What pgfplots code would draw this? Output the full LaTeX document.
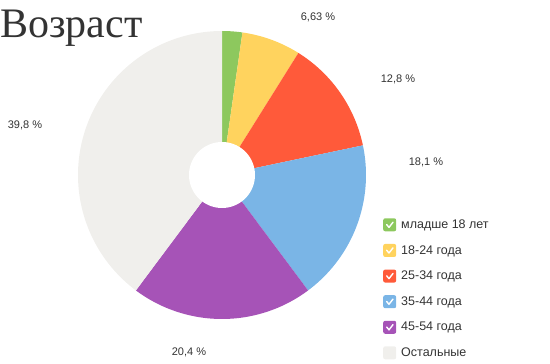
\documentclass[border=0pt]{standalone}
\usepackage{pgfplots}
\pgfplotsset{compat=1.18}
\usepackage{fontspec}
\setmainfont{Liberation Sans}
\newfontfamily\titlefont{Liberation Serif}
\definecolor{cgreen}{HTML}{8DC85E}
\definecolor{cyellow}{HTML}{FFD35E}
\definecolor{cred}{HTML}{FF5A3A}
\definecolor{cblue}{HTML}{7AB5E6}
\definecolor{cpurple}{HTML}{A653B7}
\definecolor{cgray}{HTML}{F0EFEC}
\definecolor{ctext}{HTML}{333333}
% shares in percent
\def\vA{2.27}\def\vB{6.63}\def\vC{12.8}\def\vD{18.1}\def\vE{20.4}\def\vF{39.8}
\pgfmathsetmacro{\aA}{90}
\pgfmathsetmacro{\aB}{\aA-3.6*\vA}
\pgfmathsetmacro{\aC}{\aB-3.6*\vB}
\pgfmathsetmacro{\aD}{\aC-3.6*\vC}
\pgfmathsetmacro{\aE}{\aD-3.6*\vD}
\pgfmathsetmacro{\aF}{\aE-3.6*\vE}
\pgfmathsetmacro{\aG}{\aF-3.6*\vF}
\def\cx{222}\def\cy{189}\def\R{144}\def\r{33}
\pgfplotsset{
  chkon/.style={legend image code/.code={%
    \path[rounded corners=2pt] (0pt,-6.5pt) rectangle (13pt,6.5pt);
    \path[fill=none, draw=none] (15.5pt,0pt);
    \draw[draw=white, fill=none, line width=1.4pt, line cap=round, line join=round] (3.5pt,0.2pt) -- (5.8pt,-2.6pt) -- (9.8pt,2.6pt);}},
  chkoff/.style={legend image code/.code={%
    \path[rounded corners=2pt] (0pt,-6.5pt) rectangle (13pt,6.5pt);
    \path[fill=none, draw=none] (15.5pt,0pt);}},
}
\begin{document}
\begin{tikzpicture}
\begin{axis}[
  x=1pt, y=1pt, xmin=0, xmax=550, ymin=0, ymax=364,
  hide axis, clip=false, anchor=south west, at={(0,0)},
  legend style={at={(axis cs:383,147)}, anchor=north west, draw=none, fill=none,
    font=\fontsize{12.5}{12.5}\selectfont, text=ctext, inner sep=0pt,
    row sep=10.4pt, column sep=0pt, cells={anchor=west},
    nodes={inner sep=2.5pt}},
  legend cell align=left,
]
\path (axis cs:0,0) rectangle (axis cs:550,364);
\addplot[forget plot, fill=cgreen, draw=none, domain=\aB:\aA, samples=20, variable=\t] ({\cx+\R*cos(t)},{\cy+\R*sin(t)}) -- (axis cs:\cx,\cy) -- cycle;
\addplot[forget plot, fill=cyellow, draw=none, domain=\aC:\aB, samples=30, variable=\t] ({\cx+\R*cos(t)},{\cy+\R*sin(t)}) -- (axis cs:\cx,\cy) -- cycle;
\addplot[forget plot, fill=cred, draw=none, domain=\aD:\aC, samples=50, variable=\t] ({\cx+\R*cos(t)},{\cy+\R*sin(t)}) -- (axis cs:\cx,\cy) -- cycle;
\addplot[forget plot, fill=cblue, draw=none, domain=\aE:\aD, samples=60, variable=\t] ({\cx+\R*cos(t)},{\cy+\R*sin(t)}) -- (axis cs:\cx,\cy) -- cycle;
\addplot[forget plot, fill=cpurple, draw=none, domain=\aF:\aE, samples=70, variable=\t] ({\cx+\R*cos(t)},{\cy+\R*sin(t)}) -- (axis cs:\cx,\cy) -- cycle;
\addplot[forget plot, fill=cgray, draw=none, domain=\aG:\aF, samples=120, variable=\t] ({\cx+\R*cos(t)},{\cy+\R*sin(t)}) -- (axis cs:\cx,\cy) -- cycle;
\addplot[forget plot, fill=white, draw=none, domain=0:360, samples=80, variable=\t] ({\cx+\r*cos(t)},{\cy+\r*sin(t)}) -- cycle;
% labels
\node[font=\fontsize{11}{11}\selectfont, text=ctext] at (axis cs:318,347) {6,63 \%};
\node[font=\fontsize{11}{11}\selectfont, text=ctext] at (axis cs:398,285) {12,8 \%};
\node[font=\fontsize{11}{11}\selectfont, text=ctext] at (axis cs:426,202) {18,1 \%};
\node[font=\fontsize{11}{11}\selectfont, text=ctext] at (axis cs:189,12) {20,4 \%};
\node[font=\fontsize{11}{11}\selectfont, text=ctext] at (axis cs:25,239) {39,8 \%};
\node[anchor=base west, inner sep=0pt, font=\titlefont\fontsize{42}{42}\selectfont, text=ctext] at (axis cs:0,326) {Возраст};
% legend
\addlegendimage{fill=cgreen, draw=none, chkon}\addlegendentry{младше 18 лет}
\addlegendimage{fill=cyellow, draw=none, chkon}\addlegendentry{18-24 года}
\addlegendimage{fill=cred, draw=none, chkon}\addlegendentry{25-34 года}
\addlegendimage{fill=cblue, draw=none, chkon}\addlegendentry{35-44 года}
\addlegendimage{fill=cpurple, draw=none, chkon}\addlegendentry{45-54 года}
\addlegendimage{fill=cgray, draw=none, chkoff}\addlegendentry{Остальные}
\end{axis}
\end{tikzpicture}
\end{document}
